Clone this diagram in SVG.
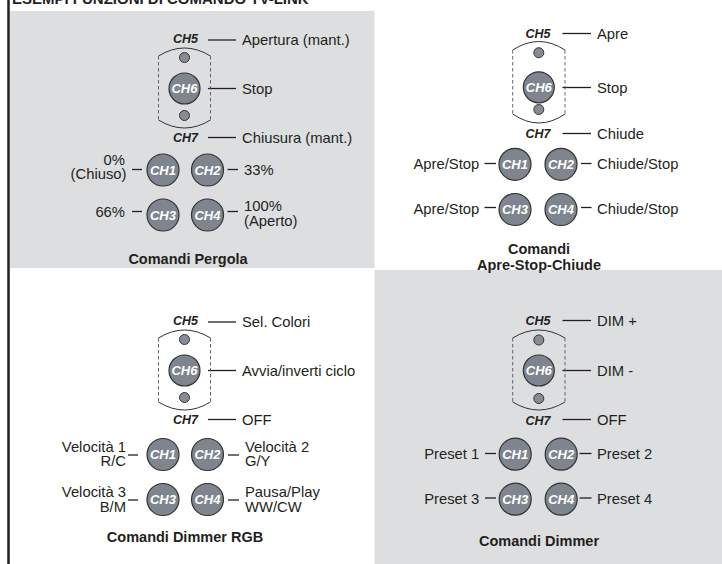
<svg xmlns="http://www.w3.org/2000/svg" width="722" height="564" viewBox="0 0 722 564">
<style>
.bg{fill:#dddee0}
.lbl{font-family:"Liberation Sans",Arial,sans-serif;font-size:14.8px;fill:#231f20}
.end{text-anchor:end}
.ch{font-family:"Liberation Sans",Arial,sans-serif;font-size:12.5px;font-weight:bold;font-style:italic;fill:#231f20;text-anchor:middle}
.cw{font-family:"Liberation Sans",Arial,sans-serif;font-size:13px;font-weight:bold;font-style:italic;fill:#ffffff;text-anchor:middle}
.ttl{font-family:"Liberation Sans",Arial,sans-serif;font-size:14.5px;font-weight:bold;fill:#231f20;text-anchor:middle}
.btn{fill:#7e858e;stroke:#333333;stroke-width:1.2}
.dot{fill:#868c95;stroke:#333333;stroke-width:1}
.arc{fill:none;stroke:#333333;stroke-width:1}
.dash{fill:none;stroke:#555555;stroke-width:0.9;stroke-dasharray:3.5,2.5}
.ld{stroke:#231f20;stroke-width:1.3;fill:none}
</style>
<rect class="bg" x="10" y="11" width="364.5" height="257"/>
<rect class="bg" x="374.5" y="270" width="347.5" height="294"/>
<line x1="8.5" y1="0" x2="8.5" y2="564" stroke="#231f20" stroke-width="2.5"/>
<text x="12" y="3.5" style="font-family:'Liberation Sans',Arial,sans-serif;font-size:15px;font-weight:bold;fill:#231f20">ESEMPI FUNZIONI DI COMANDO TV-LINK</text>

<g id="connectors">
<line class="ld" x1="208" y1="40" x2="236" y2="40"/>
<line class="ld" x1="208" y1="88.5" x2="236" y2="88.5"/>
<line class="ld" x1="208" y1="137.5" x2="236" y2="137.5"/>
<line class="ld" x1="132" y1="169.5" x2="142" y2="169.5"/>
<line class="ld" x1="227.5" y1="169.5" x2="238" y2="169.5"/>
<line class="ld" x1="132" y1="211.5" x2="142" y2="211.5"/>
<line class="ld" x1="227.5" y1="211.5" x2="238" y2="211.5"/>
<line class="ld" x1="562.5" y1="33.5" x2="591" y2="33.5"/>
<line class="ld" x1="562.5" y1="87.5" x2="591" y2="87.5"/>
<line class="ld" x1="562.5" y1="133.5" x2="591" y2="133.5"/>
<line class="ld" x1="484.5" y1="163.5" x2="496" y2="163.5"/>
<line class="ld" x1="581" y1="163.5" x2="591.5" y2="163.5"/>
<line class="ld" x1="484.5" y1="207.5" x2="496" y2="207.5"/>
<line class="ld" x1="581" y1="207.5" x2="591.5" y2="207.5"/>
<line class="ld" x1="208" y1="322" x2="236" y2="322"/>
<line class="ld" x1="208" y1="370.5" x2="236" y2="370.5"/>
<line class="ld" x1="208" y1="419.5" x2="236" y2="419.5"/>
<line class="ld" x1="128" y1="455" x2="138" y2="455"/>
<line class="ld" x1="228" y1="455" x2="239" y2="455"/>
<line class="ld" x1="128" y1="500" x2="138" y2="500"/>
<line class="ld" x1="228" y1="500" x2="239" y2="500"/>
<line class="ld" x1="562.5" y1="320.5" x2="591" y2="320.5"/>
<line class="ld" x1="562.5" y1="370.5" x2="591" y2="370.5"/>
<line class="ld" x1="562.5" y1="419.5" x2="591" y2="419.5"/>
<line class="ld" x1="485" y1="453.5" x2="496" y2="453.5"/>
<line class="ld" x1="579.5" y1="453.5" x2="591.5" y2="453.5"/>
<line class="ld" x1="485" y1="498" x2="496" y2="498"/>
<line class="ld" x1="579.5" y1="498" x2="591.5" y2="498"/>
</g>

<g id="tl-frame">
<path class="arc" d="M158.5,56 Q184.5,40 210.5,56"/>
<path class="arc" d="M158.5,120 Q184.5,136 210.5,120"/>
<line class="dash" x1="158.5" y1="56" x2="158.5" y2="120"/>
<line class="dash" x1="210.5" y1="56" x2="210.5" y2="120"/>
</g>
<g id="tl-ch5"><text class="ch" x="185.5" y="42.5">CH5</text><circle class="dot" cx="184.5" cy="57.5" r="5"/><text class="lbl" x="242" y="44.5">Apertura (mant.)</text></g>
<g id="tl-ch6"><circle class="btn" cx="184.5" cy="88.5" r="15.5"/><text class="cw" x="184.5" y="93">CH6</text><text class="lbl" x="242" y="93.5">Stop</text></g>
<g id="tl-ch7"><circle class="dot" cx="184.5" cy="115.5" r="5"/><text class="ch" x="185.5" y="141.5">CH7</text><text class="lbl" x="242" y="142.5">Chiusura (mant.)</text></g>
<g id="tl-ch1"><circle class="btn" cx="163" cy="170" r="16"/><text class="cw" x="163" y="174.5">CH1</text><text class="lbl end" x="125" y="164.5">0%</text><text class="lbl end" x="126.5" y="179">(Chiuso)</text></g>
<g id="tl-ch2"><circle class="btn" cx="207.5" cy="170" r="16"/><text class="cw" x="207.5" y="174.5">CH2</text><text class="lbl" x="244" y="174.5">33%</text></g>
<g id="tl-ch3"><circle class="btn" cx="163" cy="215" r="16"/><text class="cw" x="163" y="219.5">CH3</text><text class="lbl end" x="125" y="217">66%</text></g>
<g id="tl-ch4"><circle class="btn" cx="207.5" cy="215" r="16"/><text class="cw" x="207.5" y="219.5">CH4</text><text class="lbl" x="244" y="211">100%</text><text class="lbl" x="244" y="226">(Aperto)</text></g>
<g id="tl-title"><text class="ttl" x="188" y="264">Comandi Pergola</text></g>

<g id="tr-frame">
<path class="arc" d="M512.7,50 Q538.8,33 565,50"/>
<path class="arc" d="M512.7,114 Q538.8,132 565,114"/>
<line class="dash" x1="512.7" y1="50" x2="512.7" y2="114"/>
<line class="dash" x1="565" y1="50" x2="565" y2="114"/>
</g>
<g id="tr-ch5"><text class="ch" x="538" y="37.8">CH5</text><circle class="dot" cx="538.8" cy="52.7" r="5"/><text class="lbl" x="597" y="38.5">Apre</text></g>
<g id="tr-ch6"><circle class="btn" cx="538.8" cy="87.3" r="15.5"/><text class="cw" x="538.8" y="91.8">CH6</text><text class="lbl" x="597" y="92.5">Stop</text></g>
<g id="tr-ch7"><circle class="dot" cx="538.8" cy="109.5" r="5"/><text class="ch" x="538" y="138">CH7</text><text class="lbl" x="597" y="138.5">Chiude</text></g>
<g id="tr-ch1"><circle class="btn" cx="515" cy="164.3" r="16"/><text class="cw" x="515" y="168.8">CH1</text><text class="lbl end" x="479.3" y="169">Apre/Stop</text></g>
<g id="tr-ch2"><circle class="btn" cx="561" cy="164.3" r="16"/><text class="cw" x="561" y="168.8">CH2</text><text class="lbl" x="597" y="169">Chiude/Stop</text></g>
<g id="tr-ch3"><circle class="btn" cx="515" cy="209.5" r="16"/><text class="cw" x="515" y="214">CH3</text><text class="lbl end" x="479.3" y="214">Apre/Stop</text></g>
<g id="tr-ch4"><circle class="btn" cx="561" cy="209.5" r="16"/><text class="cw" x="561" y="214">CH4</text><text class="lbl" x="597" y="214">Chiude/Stop</text></g>
<g id="tr-title"><text class="ttl" x="539" y="254">Comandi</text><text class="ttl" x="539" y="270">Apre-Stop-Chiude</text></g>

<g id="bl-frame">
<path class="arc" d="M158.5,338 Q184.5,322 210.5,338"/>
<path class="arc" d="M158.5,402 Q184.5,418 210.5,402"/>
<line class="dash" x1="158.5" y1="338" x2="158.5" y2="402"/>
<line class="dash" x1="210.5" y1="338" x2="210.5" y2="402"/>
</g>
<g id="bl-ch5"><text class="ch" x="185.5" y="324.5">CH5</text><circle class="dot" cx="184.5" cy="339.5" r="5"/><text class="lbl" x="242" y="326.5">Sel. Colori</text></g>
<g id="bl-ch6"><circle class="btn" cx="184.5" cy="370.5" r="15.5"/><text class="cw" x="184.5" y="375">CH6</text><text class="lbl" x="242" y="375.5">Avvia/inverti ciclo</text></g>
<g id="bl-ch7"><circle class="dot" cx="184.5" cy="397.5" r="5"/><text class="ch" x="185.5" y="423.5">CH7</text><text class="lbl" x="242" y="424.5">OFF</text></g>
<g id="bl-ch1"><circle class="btn" cx="163" cy="454.5" r="16"/><text class="cw" x="163" y="459">CH1</text><text class="lbl end" x="126" y="451.5">Velocità 1</text><text class="lbl end" x="126" y="466">R/C</text></g>
<g id="bl-ch2"><circle class="btn" cx="207.5" cy="454.5" r="16"/><text class="cw" x="207.5" y="459">CH2</text><text class="lbl" x="245" y="451.5">Velocità 2</text><text class="lbl" x="245" y="466">G/Y</text></g>
<g id="bl-ch3"><circle class="btn" cx="163" cy="499.5" r="16"/><text class="cw" x="163" y="504">CH3</text><text class="lbl end" x="126" y="497">Velocità 3</text><text class="lbl end" x="126" y="511.5">B/M</text></g>
<g id="bl-ch4"><circle class="btn" cx="207.5" cy="499.5" r="16"/><text class="cw" x="207.5" y="504">CH4</text><text class="lbl" x="245" y="497">Pausa/Play</text><text class="lbl" x="245" y="511.5">WW/CW</text></g>
<g id="bl-title"><text class="ttl" x="185" y="542">Comandi Dimmer RGB</text></g>

<g id="br-frame">
<path class="arc" d="M512.7,338 Q538.8,322 565,338"/>
<path class="arc" d="M512.7,402 Q538.8,418 565,402"/>
<line class="dash" x1="512.7" y1="338" x2="512.7" y2="402"/>
<line class="dash" x1="565" y1="338" x2="565" y2="402"/>
</g>
<g id="br-ch5"><text class="ch" x="538" y="325">CH5</text><circle class="dot" cx="538.8" cy="340" r="5"/><text class="lbl" x="597" y="326">DIM +</text></g>
<g id="br-ch6"><circle class="btn" cx="538.8" cy="370.5" r="15.5"/><text class="cw" x="538.8" y="375">CH6</text><text class="lbl" x="597" y="375.5">DIM -</text></g>
<g id="br-ch7"><circle class="dot" cx="538.8" cy="398.5" r="5"/><text class="ch" x="538" y="424.5">CH7</text><text class="lbl" x="597" y="425">OFF</text></g>
<g id="br-ch1"><circle class="btn" cx="515.2" cy="454.2" r="16"/><text class="cw" x="515.2" y="458.7">CH1</text><text class="lbl end" x="479.3" y="459">Preset 1</text></g>
<g id="br-ch2"><circle class="btn" cx="561.2" cy="454.2" r="16"/><text class="cw" x="561.2" y="458.7">CH2</text><text class="lbl" x="597" y="459">Preset 2</text></g>
<g id="br-ch3"><circle class="btn" cx="515.2" cy="499.2" r="16"/><text class="cw" x="515.2" y="503.7">CH3</text><text class="lbl end" x="479.3" y="504">Preset 3</text></g>
<g id="br-ch4"><circle class="btn" cx="561.2" cy="499.2" r="16"/><text class="cw" x="561.2" y="503.7">CH4</text><text class="lbl" x="597" y="504">Preset 4</text></g>
<g id="br-title"><text class="ttl" x="539" y="546">Comandi Dimmer</text></g>
</svg>
